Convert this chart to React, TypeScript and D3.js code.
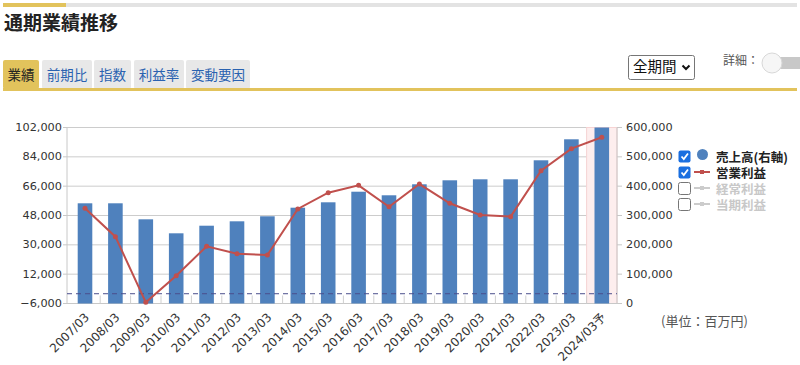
import React from "react";
import * as d3 from "d3";

const categories = ["2007/03","2008/03","2009/03","2010/03","2011/03","2012/03","2013/03","2014/03","2015/03","2016/03","2017/03","2018/03","2019/03","2020/03","2021/03","2022/03","2023/03","2024/03予"];
const sales = [341600,341600,287000,239300,265200,280200,297300,326600,345000,381100,368900,406400,420000,423400,423400,488200,559800,600000];
const opProfit = [52400,35000,-5300,11000,29100,24500,23700,52000,62000,66500,53400,67300,55500,48300,47300,75500,89000,96000];
const leftTicks = [-6000,12000,30000,48000,66000,84000,102000];
const rightTicks = [0,100000,200000,300000,400000,500000,600000];
const tabs = ["業績","前期比","指数","利益率","変動要因"];
const legendItems = [
  { label: "売上高(右軸)", on: true, kind: "bar" },
  { label: "営業利益", on: true, kind: "line" },
  { label: "経常利益", on: false, kind: "line" },
  { label: "当期利益", on: false, kind: "line" },
];

const NUM = "'DejaVu Sans', Verdana, sans-serif";
const JP = "'Noto Sans CJK JP', 'Noto Sans', sans-serif";

export default function App() {
  const W = 800, H = 365;
  const top = 127.5, bottom = 303.5, left = 67, right = 617;
  const x = d3.scaleBand<string>().domain(categories).range([69.8, right]).padding(0);
  const yL = d3.scaleLinear().domain([-6000, 102000]).range([bottom, top]);
  const yR = d3.scaleLinear().domain([0, 600000]).range([bottom, top]);
  const bw = x.bandwidth() * 0.48;
  const fmt = d3.format(",");
  const line = d3.line<number>()
    .x((_, i) => (x(categories[i]) as number) + x.bandwidth() / 2)
    .y((d) => yL(d));
  const lastCat = categories[categories.length - 1];

  const tabX = [3, 42, 94, 134, 186];
  const tabW = [36, 50, 37, 50, 64];

  return (
    <svg width={W} height={H} style={{ position: "absolute", left: 0, top: 0, background: "#fff" }}>
      {/* top bar */}
      <rect x={3} y={3} width={794} height={4} fill="#e3e3e3" />
      <rect x={3} y={3} width={63} height={4} fill="#e2c35c" />
      <text x={4} y={30} fontFamily={JP} fontWeight={700} fontSize={19} fill="#222">通期業績推移</text>

      {/* tabs */}
      {tabs.map((t, i) => (
        <g key={t}>
          <rect x={tabX[i]} y={60} width={tabW[i]} height={29} fill={i === 0 ? "#e2c35c" : "#e8e8e8"} rx={2} />
          <text x={tabX[i] + tabW[i] / 2} y={76} textAnchor="middle" dominantBaseline="middle"
            fontFamily={JP} fontSize={13.5} fill={i === 0 ? "#222" : "#2a62b0"}>{t}</text>
        </g>
      ))}
      <rect x={3} y={88} width={794} height={3} fill="#e2c35c" />

      {/* dropdown */}
      <rect x={628.5} y={55.5} width={66} height={24} fill="#fff" stroke="#767676" rx={2} />
      <text x={633} y={68} dominantBaseline="middle" fontFamily={JP} fontSize={14.5} fill="#111">全期間</text>
      <path d="M682.5,65.5 L686,69 L689.5,65.5" fill="none" stroke="#111" strokeWidth={2} />
      <text x={723} y={62} dominantBaseline="middle" fontFamily={JP} fontSize={12} fill="#555">詳細：</text>
      <rect x={768} y={57} width={40} height={12} rx={6} fill="#c8c8c8" />
      <circle cx={772} cy={63} r={10} fill="#f6f6f6" stroke="#d8d8d8" />

      {/* gridlines */}
      {leftTicks.map((t) => (
        <line key={t} x1={left} x2={right} y1={yL(t)} y2={yL(t)} stroke="#cccccc" strokeWidth={1} />
      ))}
      {/* forecast band */}
      <rect x={x(lastCat) as number} y={top} width={x.bandwidth()} height={bottom - top}
        fill="#fdeeee" stroke="#f6d3d3" strokeWidth={1} />
      {/* axes lines */}
      <line x1={left} x2={left} y1={top} y2={bottom} stroke="#c8c8c8" />
      <line x1={right} x2={right} y1={top} y2={bottom} stroke="#c8c8c8" />
      <line x1={left} x2={right} y1={bottom} y2={bottom} stroke="#c8c8c8" />
      {leftTicks.map((t) => (
        <g key={"l" + t}>
          <line x1={left - 4} x2={left} y1={yL(t)} y2={yL(t)} stroke="#c8c8c8" />
          <text x={62} y={yL(t)} textAnchor="end" dominantBaseline="central" fontFamily={NUM} fontSize={11.3} fill="#333">{fmt(t)}</text>
        </g>
      ))}
      {rightTicks.map((t) => (
        <g key={"r" + t}>
          <line x1={right} x2={right + 5} y1={yR(t)} y2={yR(t)} stroke="#c8c8c8" />
          <text x={626} y={yR(t)} dominantBaseline="central" fontFamily={NUM} fontSize={11.3} fill="#333">{fmt(t)}</text>
        </g>
      ))}
      {/* x ticks (inside) */}
      {categories.slice(1).map((c) => (
        <line key={"t" + c} x1={x(c) as number} x2={x(c) as number} y1={bottom - 8} y2={bottom} stroke="#cfcfcf" />
      ))}

      {/* bars */}
      {categories.map((c, i) => (
        <rect key={"b" + c} x={(x(c) as number) + (x.bandwidth() - bw) / 2} y={yR(sales[i])}
          width={bw} height={bottom - yR(sales[i])} fill="#4f81bd" />
      ))}
      {/* zero dashed line */}
      <line x1={left} x2={right} y1={yL(0)} y2={yL(0)} stroke="#4b4f8c" strokeDasharray="5,4" strokeWidth={1} />
      {/* line */}
      <path d={line(opProfit) || ""} fill="none" stroke="#c0504d" strokeWidth={2} />
      {opProfit.map((v, i) => (
        <circle key={"p" + i} cx={(x(categories[i]) as number) + x.bandwidth() / 2} cy={yL(v)} r={2.5} fill="#c0504d" />
      ))}

      {/* x labels */}
      {categories.map((c) => {
        const cx = (x(c) as number) + x.bandwidth() / 2;
        return (
          <text key={"x" + c} transform={`translate(${cx + 5},${318}) rotate(-45)`} textAnchor="end"
            fontFamily={NUM} fontSize={12} fill="#333">
            {c.replace("予", "")}
            {c.endsWith("予") ? <tspan fontFamily={JP}>予</tspan> : null}
          </text>
        );
      })}

      {/* legend */}
      {legendItems.map((it, i) => {
        const cy = 156 + i * 16;
        const col = it.on ? "#222" : "#c8c8c8";
        return (
          <g key={it.label}>
            {it.on ? (
              <g>
                <rect x={678.5} y={cy - 5.5} width={12} height={12} rx={2} fill="#1a6fe0" />
                <path d={`M681.5,${cy + 0.5} L683.8,${cy + 3} L688,${cy - 2.5}`} fill="none" stroke="#fff" strokeWidth={1.8} />
              </g>
            ) : (
              <rect x={678.5} y={cy - 5.5} width={12} height={12} rx={2} fill="#fff" stroke="#767676" />
            )}
            {it.kind === "bar" ? (
              <circle cx={702.5} cy={cy - 1.5} r={5.5} fill="#4f81bd" />
            ) : (
              <g>
                <line x1={694} x2={710} y1={cy} y2={cy} stroke={it.on ? "#c0504d" : "#ccc"} strokeWidth={2} />
                <rect x={700} y={cy - 2} width={4} height={4} fill={it.on ? "#c0504d" : "#ccc"} />
              </g>
            )}
            <text x={716} y={cy} dominantBaseline="central" fontFamily={JP} fontWeight={700} fontSize={12.5} fill={col}>{it.label}</text>
          </g>
        );
      })}

      <text x={661} y={320} dominantBaseline="central" fontFamily={JP} fontSize={13} fill="#555">(単位：百万円)</text>
    </svg>
  );
}
